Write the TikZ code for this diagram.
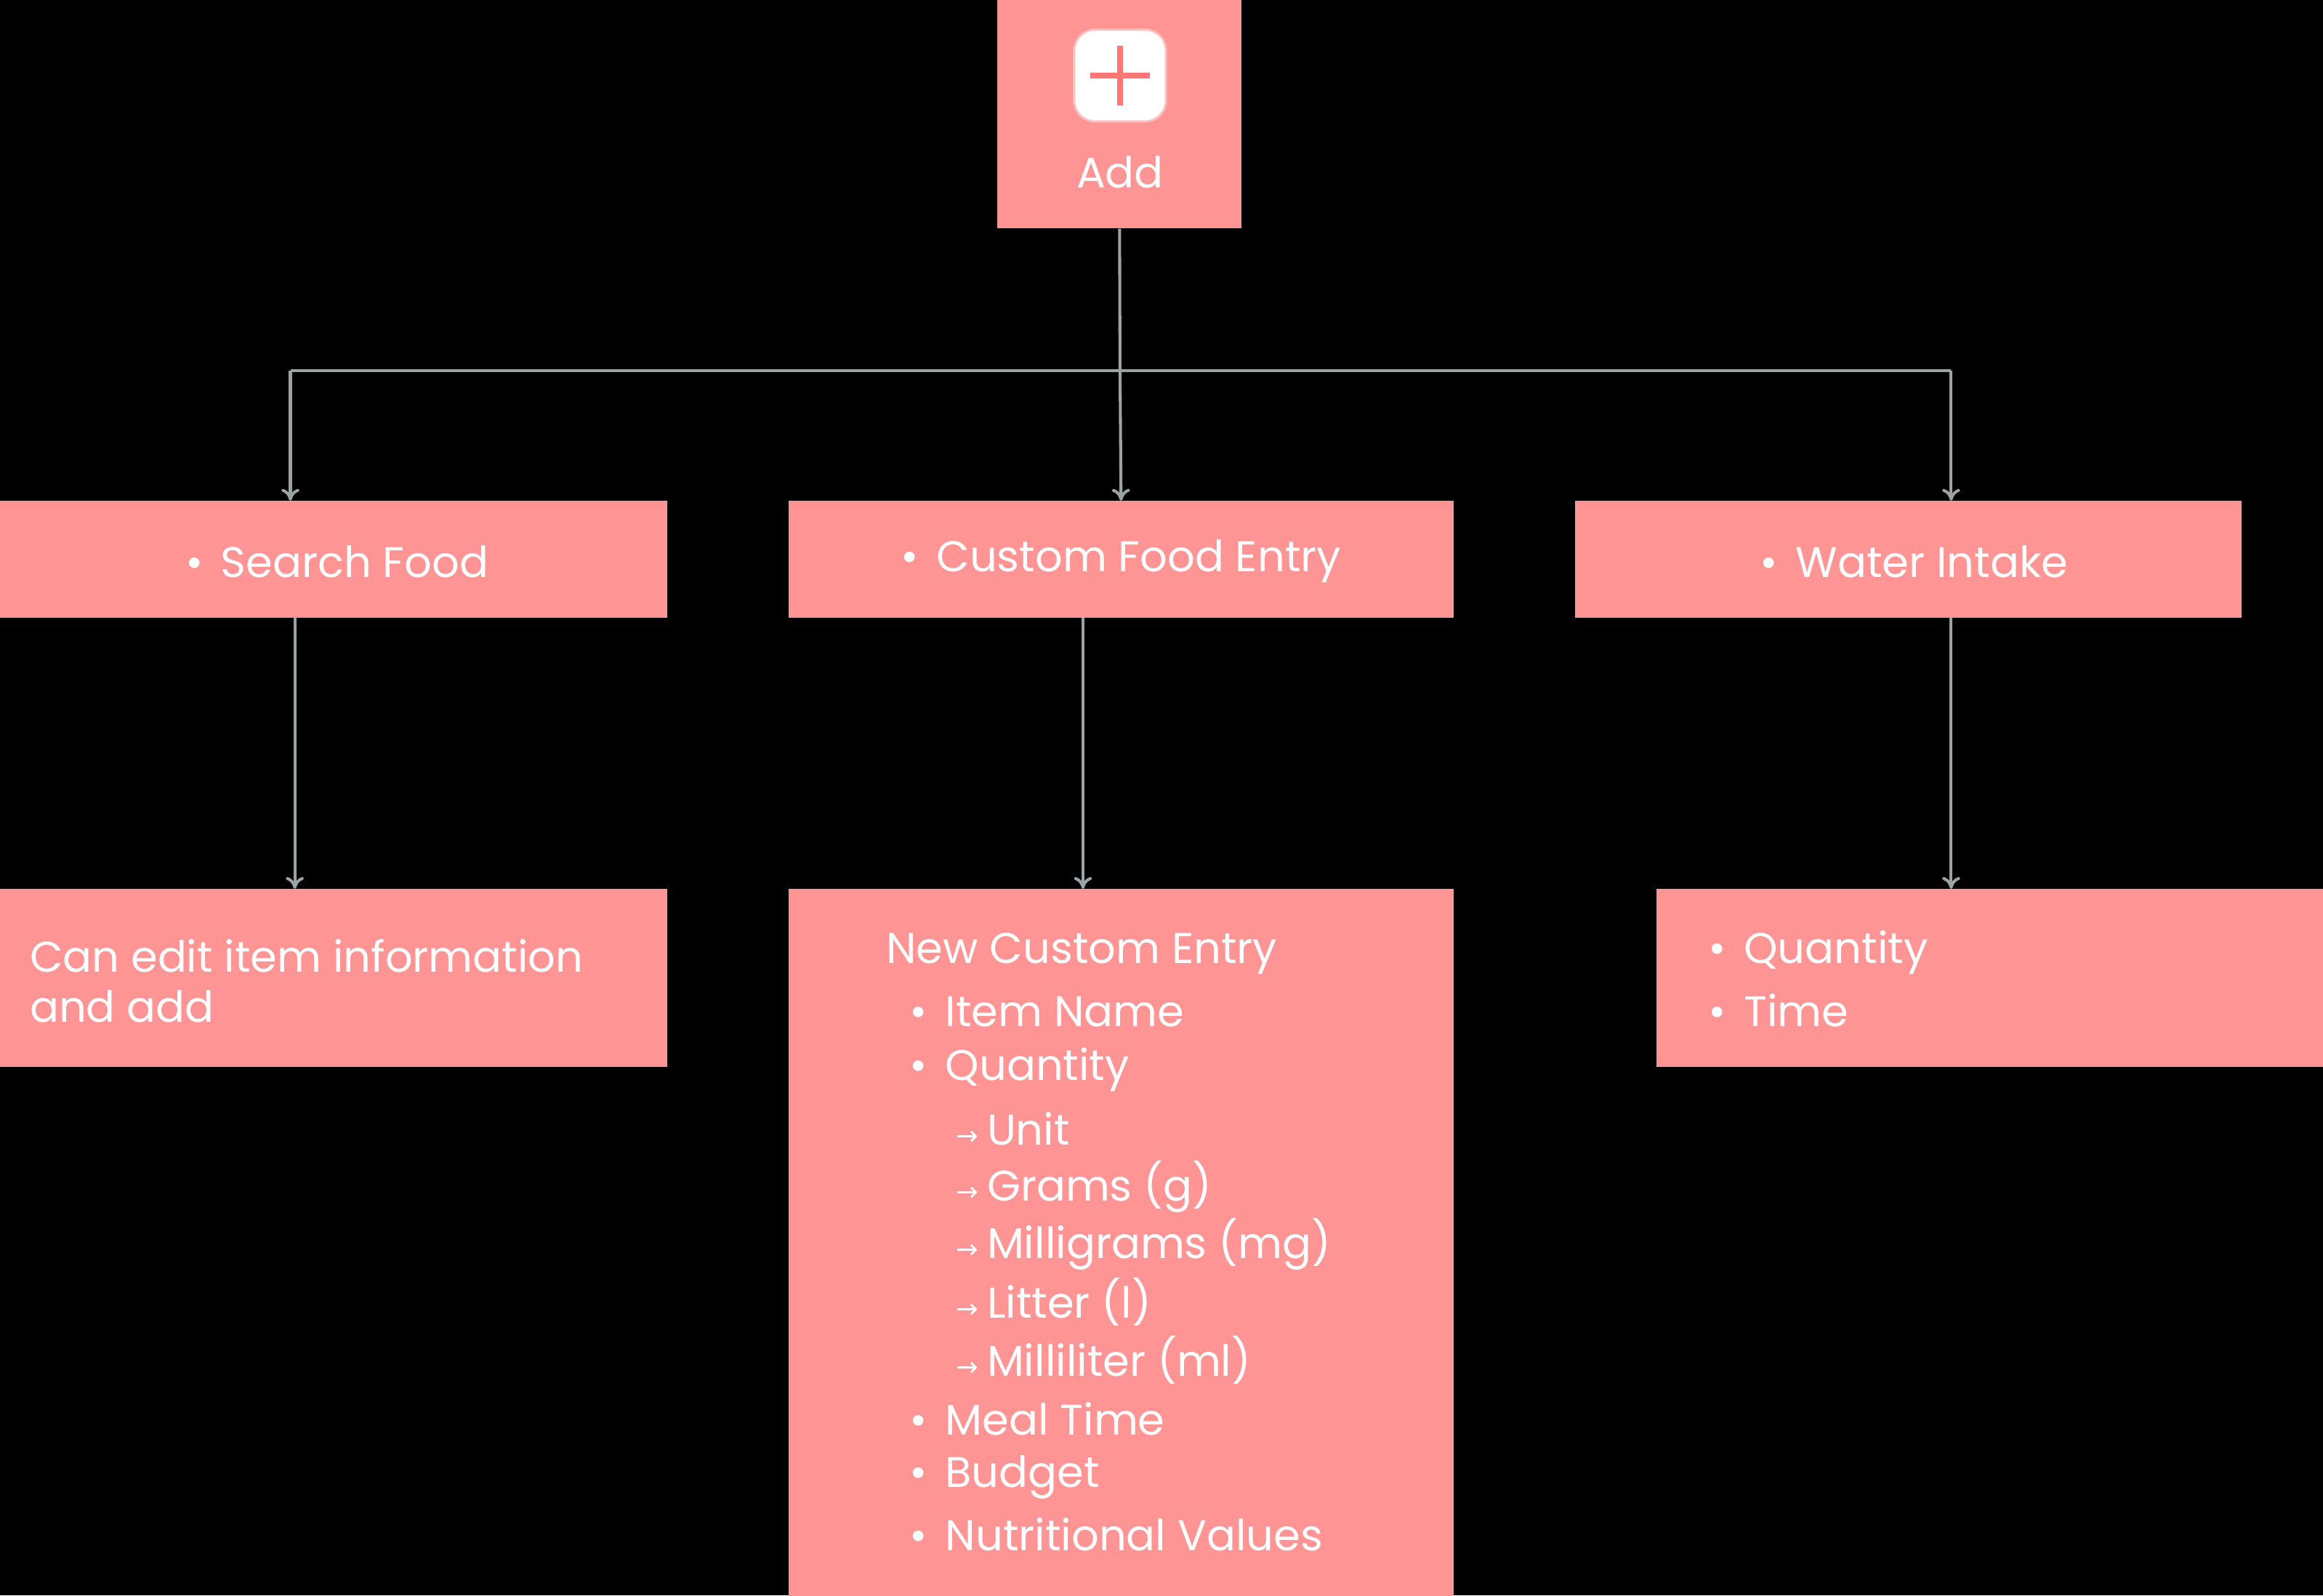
\documentclass[tikz,border=0pt]{standalone}
\usepackage{fontspec}
\setmainfont{Poppins}
\newfontfamily\symf{DejaVu Sans}
\usetikzlibrary{arrows.meta}
\definecolor{boxc}{HTML}{FF9494}
\definecolor{linec}{HTML}{9AA3A6}
\begin{document}
\begin{tikzpicture}[x=1pt,y=-1pt,
  box/.style={fill=boxc,draw=none},
  txt/.style={text=white,font=\fontsize{29}{34}\selectfont,anchor=west,inner sep=0},
  conn/.style={draw=linec,line width=2pt,-{To[length=8pt,width=12pt]}},
  seg/.style={draw=linec,line width=2pt}]
\fill[black] (0,0) rectangle (1568,1077);
\useasboundingbox (0,0) rectangle (1568,1077);
% boxes
\node[box,minimum width=165pt,minimum height=154pt,anchor=north west] (add) at (673,0) {};
\node[box,minimum width=450pt,minimum height=79pt,anchor=north west] (sf) at (0,338) {};
\node[box,minimum width=449pt,minimum height=79pt,anchor=north west] (cf) at (532,338) {};
\node[box,minimum width=450pt,minimum height=79pt,anchor=north west] (wi) at (1063,338) {};
\node[box,minimum width=450pt,minimum height=120pt,anchor=north west] (se) at (0,600) {};
\node[box,minimum width=449pt,minimum height=477pt,anchor=north west] (ce) at (532,600) {};
\node[box,minimum width=450pt,minimum height=120pt,anchor=north west] (we) at (1118,600) {};
% add icon
\node[fill=white,rounded corners=14pt,minimum width=62pt,minimum height=62pt,draw=boxc!60!white,line width=1.5pt] (icon) at (756,51) {};
\draw[boxc!80!red,line width=3.5pt] ([yshift=-20pt]icon.center) -- ([yshift=20pt]icon.center)
  ([xshift=-20pt]icon.center) -- ([xshift=20pt]icon.center);
\node[txt,anchor=center] (addt) at (756,116) {Add};
% connectors
\coordinate (j) at (756,250);
\coordinate (jl) at (196,250);
\coordinate (jr) at (1317,250);
\draw[seg] (add.south) -- (j);
\draw[seg] (jl) -- (jr);
\draw[conn] (jl) -- (196,338);
\draw[conn] (j) -- (cf.north);
\draw[conn] (jr) -- (1317,338);
\draw[conn] (199,417) -- (199,600);
\draw[conn] (731,417) -- (731,600);
\draw[conn] (1317,417) -- (1317,600);
% texts
\node[txt] (t1) at (125,379) {\textbullet\hspace{12pt}Search Food};
\node[txt] (t2) at (608,379) {\textbullet\hspace{12pt}Custom Food Entry};
\node[txt] (t3) at (1188,379) {\textbullet\hspace{12pt}Water Intake};
\node[txt,align=left] (t4) at (20,662) {Can edit item information\\and add};
\node[txt] (w1) at (1153,643) {\textbullet\hspace{12pt}Quantity};
\node[txt] (w2) at (1153,682) {\textbullet\hspace{12pt}Time};
\node[txt] (c0) at (598,644) {New Custom Entry};
\node[txt] (c1) at (614,683) {\textbullet\hspace{12pt}Item Name};
\node[txt] (c2) at (614,722) {\textbullet\hspace{12pt}Quantity};
\node[txt] (c3) at (645,762) {{\symf\fontsize{18}{20}\selectfont →}\hspace{6pt}Unit};
\node[txt] (c4) at (645,801) {{\symf\fontsize{18}{20}\selectfont →}\hspace{6pt}Grams (g)};
\node[txt] (c5) at (645,840) {{\symf\fontsize{18}{20}\selectfont →}\hspace{6pt}Milligrams (mg)};
\node[txt] (c6) at (645,879) {{\symf\fontsize{18}{20}\selectfont →}\hspace{6pt}Litter (l)};
\node[txt] (c7) at (645,918) {{\symf\fontsize{18}{20}\selectfont →}\hspace{6pt}Milliliter (ml)};
\node[txt] (c8) at (614,958) {\textbullet\hspace{12pt}Meal Time};
\node[txt] (c9) at (614,997) {\textbullet\hspace{12pt}Budget};
\node[txt] (c10) at (614,1036) {\textbullet\hspace{12pt}Nutritional Values};
\end{tikzpicture}
\end{document}
